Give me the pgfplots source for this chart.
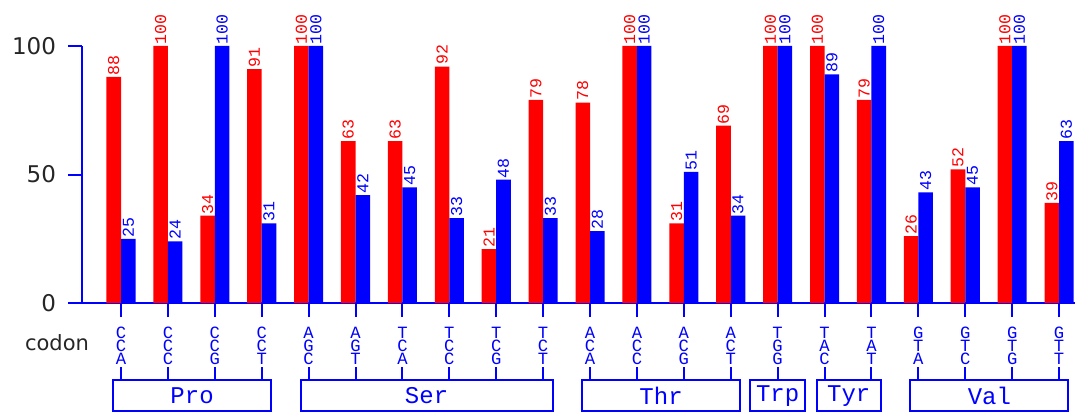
\documentclass[border=0pt]{standalone}
\usepackage{fontspec}
\setmainfont{DejaVu Sans}
\newfontfamily\monofont{Liberation Mono}
\usepackage{pgfplots}
\pgfplotsset{compat=1.18}
\usepackage{pgfplotstable}

% relative codon usage: red and blue series per codon
\pgfplotstableread{
idx red blue
0   88  25
1   100 24
2   34  100
3   91  31
4   100 100
5   63  42
6   63  45
7   92  33
8   21  48
9   79  33
10  78  28
11  100 100
12  31  51
13  69  34
14  100 100
15  100 89
16  79  100
17  26  43
18  52  45
19  100 100
20  39  63
}\codonusage

\begin{document}
\begin{tikzpicture}
\path[use as bounding box] (0,0) rectangle (537.5pt,206pt);
\begin{axis}[
  at={(41pt,54.5pt)}, anchor=south west,
  scale only axis, width=496.5pt, height=128.5pt,
  xmin=-0.832, xmax=20.34, ymin=0, ymax=100,
  clip=false,
  axis lines=left,
  axis line style={-, blue, line width=1pt},
  tick style={blue, line width=1pt},
  tick align=outside,
  major tick length=7pt,
  ytick={0,50,100},
  yticklabel style={font=\fontsize{11.5}{13}\selectfont, text=black!85, xshift=-2.5pt},
  /pgf/number format/assume math mode=true,
  xtick={0,...,20},
  xticklabels={{C\\C\\A},{C\\C\\C},{C\\C\\G},{C\\C\\T},{A\\G\\C},{A\\G\\T},{T\\C\\A},{T\\C\\C},{T\\C\\G},{T\\C\\T},{A\\C\\A},{A\\C\\C},{A\\C\\G},{A\\C\\T},{T\\G\\G},{T\\A\\C},{T\\A\\T},{G\\T\\A},{G\\T\\C},{G\\T\\G},{G\\T\\T}},
  xticklabel style={align=center, font=\monofont\fontsize{8.6}{6.5}\selectfont, text=blue, anchor=north, inner sep=0pt, yshift=-5pt},
  ybar=0pt, bar width=0.31,
  nodes near coords,
  every node near coord/.append style={rotate=90, anchor=west, inner sep=0.6pt, font=\monofont\fontsize{8.3}{9}\selectfont},
]
\addplot[fill=red, draw=none, every node near coord/.append style={text=red}] table[x=idx, y=red] {\codonusage};
\addplot[fill=blue, draw=none, every node near coord/.append style={text=blue}] table[x=idx, y=blue] {\codonusage};

% connectors from each codon down to its amino-acid box
\pgfplotsinvokeforeach{0,...,20}{
  \draw[blue, line width=1pt] ([yshift=-32pt]axis cs:#1,0) -- ([yshift=-38.5pt]axis cs:#1,0);
}
% amino-acid boxes
\draw[blue, line width=1pt] ([yshift=-38.5pt]axis cs:-0.17,0) rectangle ([yshift=-54pt]axis cs:3.2,0);
\draw[blue, line width=1pt] ([yshift=-38.5pt]axis cs:3.83,0) rectangle ([yshift=-54pt]axis cs:9.2,0);
\draw[blue, line width=1pt] ([yshift=-38.5pt]axis cs:9.83,0) rectangle ([yshift=-54pt]axis cs:13.2,0);
\draw[blue, line width=1pt] ([yshift=-38.5pt]axis cs:13.42,0) rectangle ([yshift=-54pt]axis cs:14.58,0);
\draw[blue, line width=1pt] ([yshift=-38.5pt]axis cs:14.83,0) rectangle ([yshift=-54pt]axis cs:16.2,0);
\draw[blue, line width=1pt] ([yshift=-38.5pt]axis cs:16.83,0) rectangle ([yshift=-54pt]axis cs:20.2,0);
\begin{scope}[every node/.style={font=\monofont\fontsize{12}{14}\selectfont, text=blue}]
\node at ([yshift=-46.3pt]axis cs:1.515,0) {Pro};
\node at ([yshift=-46.3pt]axis cs:6.515,0) {Ser};
\node at ([yshift=-46.3pt]axis cs:11.515,0) {Thr};
\node at ([yshift=-46.3pt]axis cs:14,0) {Trp};
\node at ([yshift=-46.3pt]axis cs:15.515,0) {Tyr};
\node at ([yshift=-46.3pt]axis cs:18.515,0) {Val};
\end{scope}
\end{axis}
\node[font=\fontsize{10.5}{12}\selectfont, text=black!85] at (28.5pt,34.5pt) {codon};
\end{tikzpicture}
\end{document}
